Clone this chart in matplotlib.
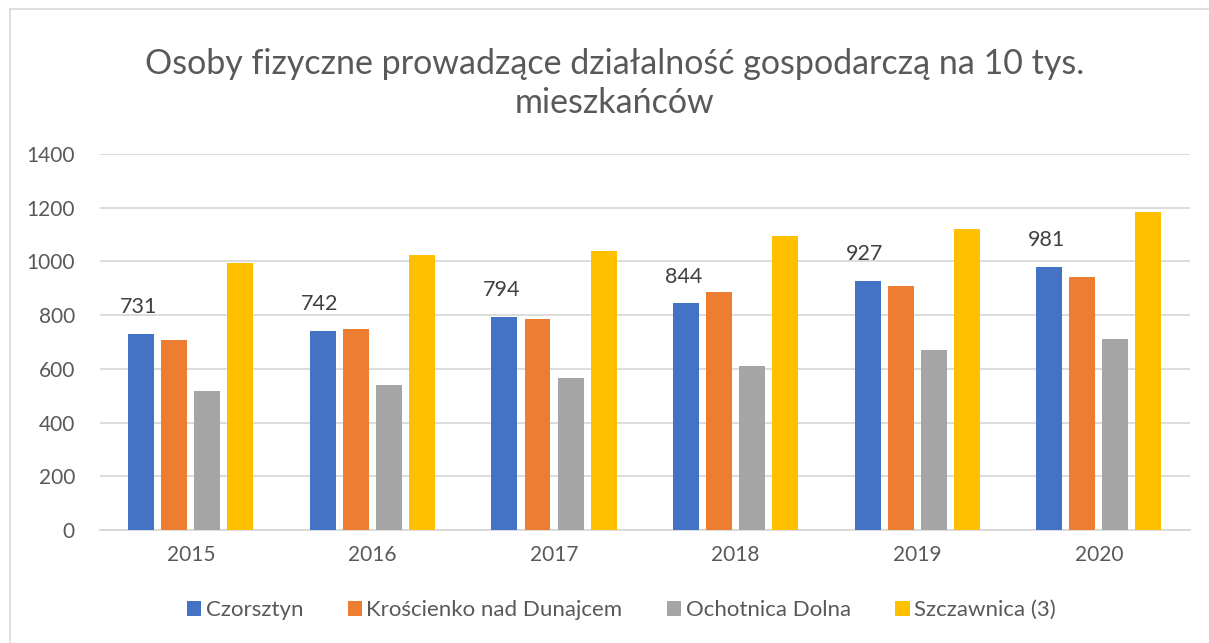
import matplotlib.pyplot as plt
import numpy as np
from matplotlib.patches import Rectangle

years = ["2015", "2016", "2017", "2018", "2019", "2020"]
czorsztyn = [731, 742, 794, 844, 927, 981]
kroscienko = [708, 748, 786, 888, 908, 941]
ochotnica = [518, 539, 565, 609, 671, 710]
szczawnica = [993, 1023, 1038, 1094, 1122, 1185]

series_names = ["Czorsztyn", "Krościenko nad Dunajcem", "Ochotnica Dolna", "Szczawnica (3)"]
colors = ["#4472c4", "#ed7d31", "#a5a5a5", "#ffc000"]
txt = "#595959"

plt.rcParams['font.family'] = ['Lato', 'DejaVu Sans']

fig = plt.figure(figsize=(12.09, 6.43), dpi=100)
ax = fig.add_axes([0.0827, 0.1757, 0.9013, 0.5848])

x = np.arange(len(years))
pitch = 0.182
width = 0.143
all_series = [czorsztyn, kroscienko, ochotnica, szczawnica]
for i, (vals, name, c) in enumerate(zip(all_series, series_names, colors)):
    ax.bar(x + (i - 1.5) * pitch, vals, width, color=c, label=name, zorder=3)

# data labels for Czorsztyn only
for xi, v in zip(x, czorsztyn):
    ax.annotate(str(v), (xi - 1.5 * pitch, v), xytext=(-2, 12), textcoords="offset points",
                ha="center", va="bottom", fontsize=15.5, color="#404040")

ax.set_xlim(-0.5, len(years) - 0.5)
ax.set_ylim(0, 1400)
ax.set_yticks(range(0, 1401, 200))
ax.set_xticks(x)
ax.set_xticklabels(years)
ax.tick_params(axis="both", length=0, labelsize=15, colors=txt)
ax.tick_params(axis="y", pad=18)
ax.tick_params(axis="x", pad=11)
ax.grid(axis="y", color="#d9d9d9", lw=1.3, zorder=0)
for s in ["top", "right", "left"]:
    ax.spines[s].set_visible(False)
ax.spines["bottom"].set_color("#d9d9d9")
ax.spines["bottom"].set_linewidth(1.3)

fig.text(0.508, 0.87, "Osoby fizyczne prowadzące działalność gospodarczą na 10 tys.\nmieszkańców",
         ha="center", va="center", fontsize=24.5, color=txt, linespacing=1.3)

fig.legend(loc="center", bbox_to_anchor=(0.514, 0.051), ncol=4, frameon=False,
           fontsize=16, labelcolor=txt, handlelength=0.65, handleheight=0.65,
           handletextpad=0.2, columnspacing=2.0)

fig.patches.append(Rectangle((10 / 1209, -0.01), 1.05, 0.998 - 8 / 643 + 0.01, transform=fig.transFigure,
                             fill=False, edgecolor="#d9d9d9", lw=1.2))

fig.savefig("out.png", dpi=100)
